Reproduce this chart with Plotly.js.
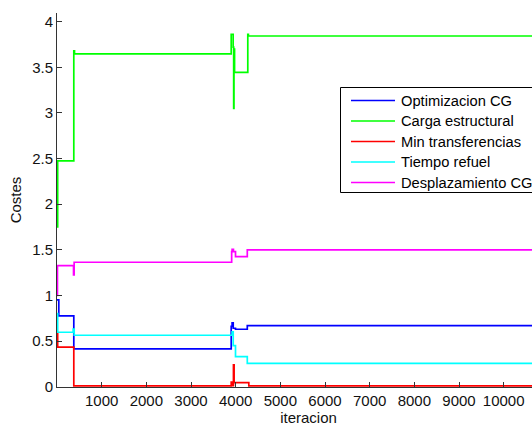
<!DOCTYPE html>
<html>
<head>
<meta charset="utf-8">
<script src="https://cdn.plot.ly/plotly-3.0.1.min.js"></script>
<style>html,body{margin:0;padding:0;background:#fff;overflow:hidden;width:532px;height:426px;}#chart{width:560px;height:426px;}</style>
</head>
<body>
<div id="chart"></div>
<script>
// Step breakpoints (iteration, value)
const optIter = [0, 40, 376, 3900, 3920, 3945, 3996, 4260, 11300];
const optVal  = [0.95, 0.775, 0.413, 0.66, 0.70, 0.64, 0.629, 0.668, 0.668];

const cargaIter = [0, 15, 376, 392, 3900, 3944, 3955, 3962, 3975, 4271, 4285, 11300];
const cargaVal  = [1.75, 2.475, 3.68, 3.646, 3.86, 3.72, 3.05, 3.70, 3.445, 3.86, 3.843, 3.843];

const minIter = [0, 15, 376, 3900, 3925, 3950, 3965, 4294, 11300];
const minVal  = [0.585, 0.432, 0.008, 0.05, 0.01, 0.238, 0.044, 0.008, 0.008];

const tiempoIter = [0, 15, 362, 385, 3920, 3945, 3996, 4260, 11300];
const tiempoVal  = [0.80, 0.596, 0.63, 0.563, 0.60, 0.45, 0.329, 0.256, 0.256];

const despIter = [0, 10, 370, 384, 3910, 3920, 3950, 3996, 4260, 11300];
const despVal  = [1.0, 1.326, 1.224, 1.363, 1.48, 1.505, 1.48, 1.425, 1.498, 1.498];

const names = ["Optimizacion CG", "Carga estructural", "Min transferencias", "Tiempo refuel", "Desplazamiento CG"];
const colors = ["#0000ff", "#00ff00", "#ff0000", "#00ffff", "#ff00ff"];
const xTicks = [1000, 2000, 3000, 4000, 5000, 6000, 7000, 8000, 9000, 10000];
const xTickText = ["1000", "2000", "3000", "4000", "5000", "6000", "7000", "8000", "9000", "10000"];
const yTicks = [0, 0.5, 1, 1.5, 2, 2.5, 3, 3.5, 4];
const yTickText = ["0", "0.5", "1", "1.5", "2", "2.5", "3", "3.5", "4"];

const series = [
  [optIter, optVal], [cargaIter, cargaVal], [minIter, minVal],
  [tiempoIter, tiempoVal], [despIter, despVal]
];

const traces = series.map((s, i) => ({
  x: s[0], y: s[1], name: names[i], type: "scatter", mode: "lines",
  line: {color: colors[i], width: 1.7, shape: "hv"}
}));

const W = 560, H = 426, ML = 57, MR = 0, MT = 13, MB = 39;
const PW = W - ML - MR, PH = H - MT - MB;
const px = v => (v - ML) / PW;          // pixel x -> paper x
const py = v => (H - MB - v) / PH;      // pixel y -> paper y

const fontFam = "Liberation Sans, Arial, sans-serif";

// Boxed legend in the MATLAB style (drawn from names/colors)
const shapes = [{
  type: "rect", xref: "paper", yref: "paper",
  x0: px(340.5), x1: px(548), y0: py(192.5), y1: py(87.5),
  line: {color: "#000", width: 1}, fillcolor: "#fff", layer: "above"
}];
const annotations = [];
names.forEach((n, i) => {
  const rowY = 100.5 + 20.5 * i;
  shapes.push({
    type: "line", xref: "paper", yref: "paper",
    x0: px(351), x1: px(395), y0: py(rowY), y1: py(rowY),
    line: {color: colors[i], width: 1.7}, layer: "above"
  });
  annotations.push({
    xref: "paper", yref: "paper", x: px(398.5), y: py(rowY),
    xanchor: "left", yanchor: "middle", showarrow: false, text: n,
    font: {family: fontFam, size: 14.7, color: "#000"}
  });
});

const layout = {
  width: W, height: H,
  margin: {l: ML, r: MR, t: MT, b: MB},
  paper_bgcolor: "#fff", plot_bgcolor: "#fff",
  font: {family: fontFam, size: 15, color: "#111"},
  showlegend: false,
  shapes: shapes,
  annotations: annotations,
  xaxis: {
    range: [0, (PW / 44.67) * 1000], tickmode: "array", tickvals: xTicks, ticktext: xTickText,
    ticks: "inside", ticklen: 5, tickcolor: "#333",
    showline: true, linecolor: "#333", linewidth: 1,
    showgrid: false, zeroline: false, mirror: false,
    title: {text: "iteracion", font: {family: fontFam, size: 15, color: "#111"}, standoff: 4},
    automargin: false
  },
  yaxis: {
    range: [-0.004, 4.095], tickmode: "array", tickvals: yTicks, ticktext: yTickText,
    ticks: "inside", ticklen: 5, tickcolor: "#333",
    showline: true, linecolor: "#333", linewidth: 1,
    showgrid: false, zeroline: false, mirror: false,
    title: {text: "Costes", font: {family: fontFam, size: 15, color: "#111"}, standoff: 6},
    automargin: false
  }
};

Plotly.newPlot("chart", traces, layout, {displayModeBar: false, staticPlot: true});
</script>
</body>
</html>
